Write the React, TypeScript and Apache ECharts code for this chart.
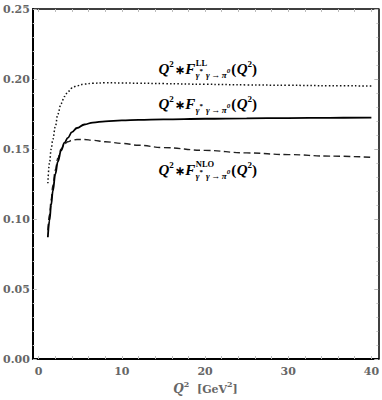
import React, { useEffect, useRef } from "react";
import * as echarts from "echarts";

// ---- data ----
const Q2 = [1.1, 1.3, 1.5, 1.7, 2.0, 2.3, 2.7, 3.1, 3.5, 4.0, 4.6, 5.5, 6.5, 8, 10, 12, 15, 20, 25, 30, 35, 40];
const F_FULL = [0.087, 0.099, 0.110, 0.120, 0.132, 0.141, 0.149, 0.1545, 0.158, 0.162, 0.165, 0.1675, 0.1689, 0.1698, 0.1704, 0.1708, 0.1712, 0.1716, 0.1719, 0.1721, 0.1723, 0.1724];
const F_LL = [0.1255, 0.140, 0.150, 0.157, 0.166, 0.175, 0.1825, 0.1875, 0.1908, 0.1935, 0.1952, 0.1964, 0.197, 0.1973, 0.1972, 0.197, 0.1967, 0.1962, 0.1958, 0.1955, 0.1952, 0.195];
const F_NLO = [0.092, 0.103, 0.114, 0.124, 0.135, 0.1435, 0.150, 0.1535, 0.1552, 0.1562, 0.1568, 0.1568, 0.1562, 0.1552, 0.154, 0.1527, 0.151, 0.149, 0.1472, 0.146, 0.1449, 0.1441];

const X_LABELS = [0, 10, 20, 30, 40];
const X_TICKS = [0, 2, 4, 6, 8, 10, 12, 14, 16, 18, 20, 22, 24, 26, 28, 30, 32, 34, 36, 38, 40];
const X_MIN = -0.71;
const X_MAX = 40.83;
const Y_MIN = 0;
const Y_MAX = 0.25;
const Y_STEP = 0.05;

// label anchors in data coordinates: [Q2, value at text baseline]
const LABEL_X = 14.4;
const LABEL_LL_Y = 0.2036;
const LABEL_FULL_Y = 0.1786;
const LABEL_NLO_Y = 0.1314;

const FAM_LBL = '"Liberation Serif", "Times New Roman", serif';
const FAM_AX = '"DejaVu Serif", serif';

type Run = { t: string; size: number; it?: boolean; dy?: number; fam?: string; w?: string; gap?: number };
type Item = Run | { stack: [Run[], Run[]] };

let measureCtx: CanvasRenderingContext2D | null = null;
function fontStr(r: Run) {
  return `${r.it ? "italic " : ""}${r.w || "bold"} ${r.size}px ${r.fam || FAM_LBL}`;
}
function measure(r: Run) {
  if (!measureCtx) measureCtx = document.createElement("canvas").getContext("2d");
  measureCtx!.font = fontStr(r);
  return measureCtx!.measureText(r.t).width;
}

function layoutRuns(items: Item[], x0: number, baseY: number, fill: string) {
  const els: any[] = [];
  const put = (r: Run, x: number) => {
    els.push({
      type: "text",
      silent: true,
      style: {
        text: r.t,
        x,
        y: baseY + (r.dy || 0) - 0.34 * r.size,
        fontSize: r.size,
        fontFamily: r.fam || FAM_LBL,
        fontWeight: r.w || "bold",
        fontStyle: r.it ? "italic" : "normal",
        fill,
        align: "left",
        verticalAlign: "middle",
      },
    });
    return measure(r) + (r.gap || 0);
  };
  let x = x0;
  for (const item of items) {
    if ("stack" in item) {
      let xa = x;
      for (const r of item.stack[0]) xa += put(r, xa);
      let xb = x;
      for (const r of item.stack[1]) xb += put(r, xb);
      x = Math.max(xa, xb);
    } else {
      x += put(item, x);
    }
  }
  return { els, width: x - x0 };
}

function formLabel(sup: string | null): Item[] {
  const M = 15;
  const S = 9;
  const sub: Run[] = [
    { t: "γ", size: S, it: true, dy: 4 },
    { t: "*", size: 7, dy: -1, gap: 3 },
    { t: "γ", size: S, it: true, dy: 4, gap: 1.5 },
    { t: "→", size: S, dy: 4, gap: 1.5 },
    { t: "π", size: S, it: true, dy: 4 },
    { t: "0", size: 7, it: true, dy: -1, gap: 1 },
  ];
  const items: Item[] = [
    { t: "Q", size: M, it: true },
    { t: "2", size: S, dy: -7, gap: 1 },
    { t: "∗", size: 12, dy: 0, gap: 0.5 },
    { t: "F", size: M, it: true, gap: 0.5 },
  ];
  if (sup) items.push({ stack: [[{ t: sup, size: 8.5, w: "bold", dy: -8.5 }], sub] });
  else items.push(...sub);
  items.push({ t: "(", size: M, gap: 0.5 });
  items.push({ t: "Q", size: M, it: true });
  items.push({ t: "2", size: S, dy: -7 });
  items.push({ t: ")", size: M });
  return items;
}

function series(name: string, ys: number[], lineStyle: any, z: number) {
  return {
    name,
    type: "line",
    data: Q2.map((q, i) => [q, ys[i]]),
    showSymbol: false,
    smooth: 0.4,
    smoothMonotone: "x",
    lineStyle,
    z,
    silent: true,
  };
}

export default function App() {
  const ref = useRef<HTMLDivElement>(null);
  useEffect(() => {
    document.body.style.margin = "0";
    const chart = echarts.init(ref.current!, null, { renderer: "svg" });
    const tickLine = { color: "#bbbbbb", width: 1 };
    const option: any = {
      animation: false,
      backgroundColor: "#ffffff",
      grid: { left: 31, right: 2, top: 9, bottom: 41, show: false },
      xAxis: [
        {
          type: "value",
          min: X_MIN,
          max: X_MAX,
          position: "bottom",
          axisLine: { show: true, onZero: false, lineStyle: { color: "#000", width: 2 } },
          axisTick: { show: true, inside: true, length: 3, customValues: X_TICKS, lineStyle: tickLine },
          axisLabel: {
            customValues: X_LABELS,
            color: "#666",
            fontFamily: FAM_AX,
            fontWeight: "bold",
            fontSize: 11,
            margin: 7,
          },
          splitLine: { show: false },
        },
        {
          type: "value",
          min: X_MIN,
          max: X_MAX,
          position: "top",
          axisLine: { show: true, onZero: false, lineStyle: { color: "#000", width: 1.5 } },
          axisTick: { show: true, inside: true, length: 3, customValues: X_TICKS, lineStyle: tickLine },
          axisLabel: { show: false },
          splitLine: { show: false },
        },
      ],
      yAxis: [
        {
          type: "value",
          min: Y_MIN,
          max: Y_MAX,
          interval: Y_STEP,
          position: "left",
          axisLine: { show: true, onZero: false, lineStyle: { color: "#000", width: 2 } },
          axisTick: { show: true, inside: true, length: 4, lineStyle: tickLine },
          minorTick: { show: true, splitNumber: 5, length: 2, lineStyle: { color: "#cccccc" } },
          axisLabel: {
            formatter: (v: number) => v.toFixed(2),
            color: "#666",
            fontFamily: FAM_AX,
            fontWeight: "bold",
            fontSize: 11,
            margin: 3,
          },
          splitLine: { show: false },
        },
        {
          type: "value",
          min: Y_MIN,
          max: Y_MAX,
          interval: Y_STEP,
          position: "right",
          axisLine: { show: true, onZero: false, lineStyle: { color: "#000", width: 1.5 } },
          axisTick: { show: true, inside: true, length: 4, lineStyle: tickLine },
          minorTick: { show: true, splitNumber: 5, length: 2, lineStyle: { color: "#cccccc" } },
          axisLabel: { show: false },
          splitLine: { show: false },
        },
      ],
      series: [
        series("NLO", F_NLO, { color: "#222", width: 1.4, type: [6.5, 3.5] }, 2),
        series("LL", F_LL, { color: "#111", width: 1.5, type: [1.5, 2.2] }, 2),
        series("Full", F_FULL, { color: "#000", width: 1.8 }, 3),
      ],
    };
    chart.setOption(option);

    const px = (x: number, y: number) => chart.convertToPixel({ xAxisIndex: 0, yAxisIndex: 0 }, [x, y]) as number[];
    const graphics: any[] = [];
    const anchors: [string | null, number][] = [
      ["LL", LABEL_LL_Y],
      [null, LABEL_FULL_Y],
      ["NLO", LABEL_NLO_Y],
    ];
    for (const [sup, y] of anchors) {
      const p = px(LABEL_X, y);
      graphics.push(...layoutRuns(formLabel(sup), p[0], p[1], "#000").els);
    }
    // axis title, centred under the grid
    const title: Item[] = [
      { t: "Q", size: 12, it: true, fam: FAM_AX, w: "bold" },
      { t: "2", size: 8, dy: -6, fam: FAM_AX },
      { t: "  [GeV", size: 11, fam: FAM_AX },
      { t: "2", size: 8, dy: -6, fam: FAM_AX },
      { t: "]", size: 11, fam: FAM_AX },
    ];
    const left = px(X_MIN, Y_MIN);
    const right = px(X_MAX, Y_MIN);
    const tw = layoutRuns(title, 0, 0, "#666").width;
    const tl = layoutRuns(title, (left[0] + right[0]) / 2 - tw / 2, left[1] + 34, "#666");
    graphics.push(...tl.els);
    chart.setOption({ graphic: graphics });
    return () => chart.dispose();
  }, []);
  return <div ref={ref} style={{ width: 382, height: 400 }} />;
}
